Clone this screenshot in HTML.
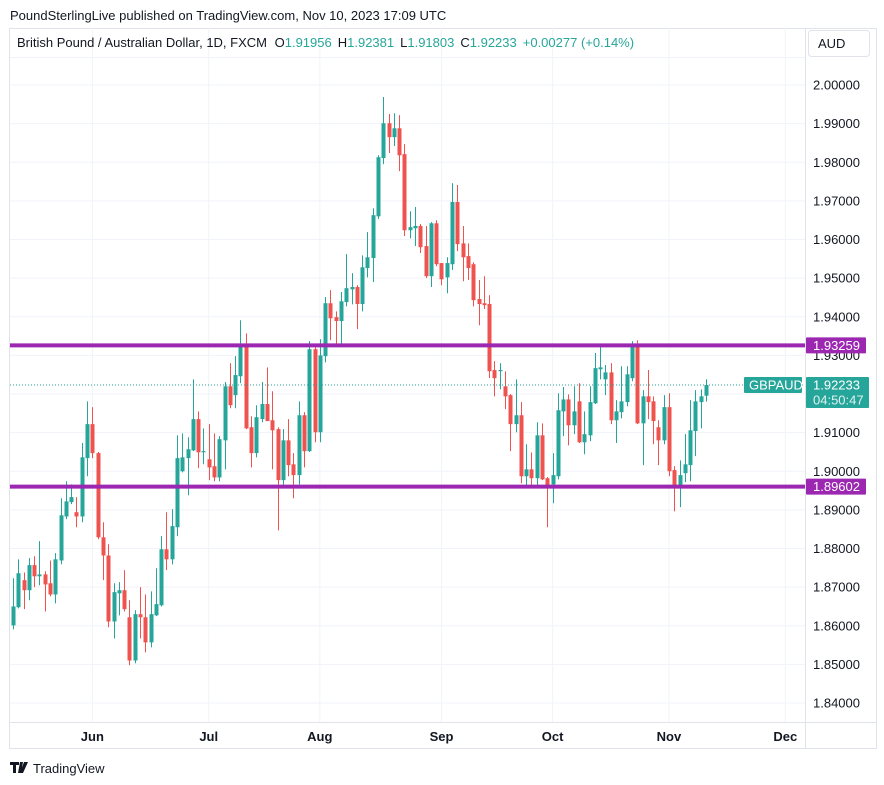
<!DOCTYPE html>
<html><head><meta charset="utf-8"><style>
body{margin:0;background:#fff;font-family:"Liberation Sans",sans-serif;}
#wrap{position:relative;width:884px;height:785px;overflow:hidden;background:#fff}
</style></head><body>
<div id="wrap">
<svg id="svg" width="884" height="785" xmlns="http://www.w3.org/2000/svg"></svg>
</div>
<script>
const opens=[1.8601,1.8648,1.8718,1.8692,1.8757,1.8728,1.8733,1.8710,1.8681,1.8769,1.8883,1.8920,1.8894,1.8883,1.9034,1.9122,1.9047,1.8829,1.8782,1.8611,1.8684,1.8692,1.8622,1.8510,1.8630,1.8622,1.8557,1.8627,1.8653,1.8798,1.8772,1.8855,1.9000,1.9034,1.9054,1.9135,1.9049,1.9031,1.9013,1.8984,1.9080,1.9220,1.9197,1.9246,1.9326,1.9114,1.9047,1.9135,1.9174,1.9132,1.9109,1.8977,1.9080,1.9018,1.8990,1.9145,1.9052,1.9316,1.9101,1.9298,1.9435,1.9399,1.9389,1.9438,1.9471,1.9477,1.9433,1.9526,1.9552,1.9660,1.9811,1.9901,1.9865,1.9888,1.9821,1.9624,1.9629,1.9635,1.9583,1.9505,1.9642,1.9539,1.9502,1.9536,1.9697,1.9590,1.9557,1.9536,1.9446,1.9435,1.9433,1.9262,1.9259,1.9220,1.9197,1.9122,1.9145,1.8987,1.9005,1.8982,1.9093,1.8982,1.8966,1.8987,1.9155,1.9186,1.9119,1.9181,1.9075,1.9093,1.9176,1.9264,1.9238,1.9256,1.9132,1.9153,1.9179,1.9241,1.9326,1.9124,1.9194,1.9181,1.9114,1.9080,1.9166,1.9003,1.8959,1.8995,1.9016,1.9104,1.9179,1.91956];
const highs=[1.8723,1.8772,1.8738,1.8775,1.8780,1.8819,1.8741,1.8769,1.8788,1.8930,1.8974,1.8966,1.8933,1.9073,1.9181,1.9166,1.9050,1.8868,1.8811,1.8710,1.8713,1.8744,1.8666,1.8640,1.8700,1.8681,1.8689,1.8749,1.8832,1.8894,1.8902,1.9093,1.9098,1.9088,1.9238,1.9155,1.9111,1.9122,1.9098,1.9091,1.9231,1.9280,1.9298,1.9391,1.9357,1.9142,1.9171,1.9231,1.9269,1.9207,1.9114,1.9109,1.9135,1.9047,1.9181,1.9153,1.9337,1.9321,1.9342,1.9451,1.9469,1.9414,1.9464,1.9562,1.9513,1.9482,1.9559,1.9619,1.9681,1.9818,1.9969,1.9925,1.9927,1.9922,1.9847,1.9673,1.9684,1.9640,1.9635,1.9645,1.9650,1.9539,1.9554,1.9746,1.9741,1.9635,1.9590,1.9541,1.9495,1.9505,1.9456,1.9285,1.9280,1.9259,1.9200,1.9238,1.9179,1.9070,1.9049,1.9127,1.9124,1.8985,1.9047,1.9202,1.9218,1.9199,1.9220,1.9228,1.9155,1.9220,1.9306,1.9326,1.9275,1.9280,1.9184,1.9272,1.9272,1.9337,1.9339,1.9210,1.9262,1.9194,1.9132,1.9197,1.9202,1.9013,1.9028,1.9096,1.9184,1.9210,1.9212,1.92381];
const lows=[1.8591,1.8645,1.8643,1.8666,1.8700,1.8705,1.8637,1.8676,1.8658,1.8759,1.8876,1.8915,1.8855,1.8868,1.8987,1.9034,1.8824,1.8718,1.8596,1.8567,1.8627,1.8637,1.8498,1.8503,1.8567,1.8531,1.8544,1.8625,1.8650,1.8744,1.8759,1.8832,1.8997,1.8938,1.9052,1.9008,1.9018,1.8977,1.8974,1.8974,1.9005,1.9163,1.9163,1.9228,1.9109,1.9010,1.9036,1.9127,1.9130,1.9005,1.8847,1.8961,1.8987,1.8930,1.8966,1.9010,1.9050,1.9075,1.9075,1.9282,1.9339,1.9329,1.9329,1.9427,1.9432,1.9368,1.9414,1.9502,1.9490,1.9653,1.9795,1.9824,1.9842,1.9777,1.9609,1.9603,1.9583,1.9565,1.9500,1.9477,1.9531,1.9482,1.9461,1.9521,1.9570,1.9492,1.9495,1.9427,1.9378,1.9420,1.9241,1.9194,1.9212,1.9161,1.9052,1.9101,1.8969,1.8961,1.8956,1.8961,1.8977,1.8855,1.8917,1.8979,1.9091,1.9067,1.9096,1.9073,1.9044,1.9078,1.9174,1.9238,1.9197,1.9122,1.9073,1.9137,1.9168,1.9233,1.9122,1.9016,1.9135,1.9070,1.9016,1.9070,1.8987,1.8896,1.8907,1.8972,1.8974,1.9039,1.9111,1.91803];
const closes=[1.8650,1.8736,1.8692,1.8757,1.8728,1.8733,1.8707,1.8681,1.8772,1.8886,1.8922,1.8933,1.8883,1.9036,1.9122,1.9047,1.8829,1.8782,1.8611,1.8687,1.8692,1.8643,1.8510,1.8630,1.8622,1.8557,1.8630,1.8656,1.8798,1.8772,1.8858,1.9034,1.9036,1.9057,1.9135,1.9049,1.9052,1.9010,1.8984,1.9083,1.9220,1.9171,1.9249,1.9326,1.9111,1.9047,1.9140,1.9174,1.9130,1.9106,1.8977,1.9080,1.9016,1.8990,1.9145,1.9052,1.9316,1.9101,1.9300,1.9435,1.9396,1.9389,1.9440,1.9474,1.9477,1.9433,1.9528,1.9554,1.9663,1.9813,1.9901,1.9865,1.9888,1.9818,1.9624,1.9632,1.9635,1.9580,1.9505,1.9642,1.9536,1.9497,1.9539,1.9697,1.9588,1.9554,1.9526,1.9443,1.9433,1.9430,1.9259,1.9241,1.9262,1.9194,1.9122,1.9145,1.8987,1.9005,1.8982,1.9093,1.8979,1.8956,1.8990,1.9158,1.9186,1.9119,1.9155,1.9075,1.9096,1.9179,1.9267,1.9269,1.9256,1.9132,1.9155,1.9181,1.9251,1.9326,1.9124,1.9194,1.9179,1.9130,1.9080,1.9166,1.9000,1.8959,1.8990,1.9018,1.9106,1.9181,1.9194,1.92233];
const priceTicks=[2.00,1.99,1.98,1.97,1.96,1.95,1.94,1.93,1.91,1.90,1.89,1.88,1.87,1.86,1.85,1.84];
const monthLabels=["Jun","Jul","Aug","Sep","Oct","Nov","Dec"];
const monthBarIndex=[15,37,58,81,102,124,146];
const levels=[1.93259,1.89602];
const lastPrice=1.92233;

const NS="http://www.w3.org/2000/svg";
const svg=document.getElementById('svg');
const X0=10,X1=805,Y0=28,Y1=722;
function y(p){return 85+(2.0-p)*3862.5;}
function x(i){return 13+i*5.29;}
function el(tag,attrs,parent){const e=document.createElementNS(NS,tag);for(const k in attrs)e.setAttribute(k,attrs[k]);(parent||svg).appendChild(e);return e;}
function txt(s,attrs,parent){const e=el('text',attrs,parent);e.textContent=s;return e;}

// frame
const frame=el('rect',{x:9.5,y:28.5,width:867,height:720,fill:'none',stroke:'#e0e3eb'});


// grid
const grid=el('g',{});


for(let i=0;i<priceTicks.length;i++){el('line',{x1:X0,x2:X1,y1:y(priceTicks[i]),y2:y(priceTicks[i]),stroke:'#f0f3fa'},grid);}
el('line',{x1:X0,x2:X1,y1:y(1.92),y2:y(1.92),stroke:'#f0f3fa'},grid);
for(let i=0;i<monthBarIndex.length;i++){el('line',{x1:x(monthBarIndex[i]),x2:x(monthBarIndex[i]),y1:Y0,y2:Y1,stroke:'#f0f3fa'},grid);}
// axes borders
el('line',{x1:X1+0.5,x2:X1+0.5,y1:Y0,y2:748,stroke:'#e0e3eb'});
el('line',{x1:X0,x2:877,y1:Y1+0.5,y2:Y1+0.5,stroke:'#e0e3eb'});
el('line',{x1:X0,x2:X1,y1:57.5,y2:57.5,stroke:'#f0f3fa'});

// candles
const cg=el('g',{});


for(let i=0;i<opens.length;i++){
  const up=closes[i]>=opens[i];const col=up?'#26a69a':'#ef5350';
  const g=el('g',{},cg);
  
  
  const cx=Math.round(x(i))+0.5;
  el('line',{x1:cx,x2:cx,y1:y(highs[i]),y2:y(lows[i]),stroke:col,'stroke-width':1},g);
  const t=y(Math.max(opens[i],closes[i])),b=y(Math.min(opens[i],closes[i]));
  el('rect',{x:cx-2,y:t,width:4,height:Math.max(1,b-t),fill:col},g);
}
// levels
for(let i=0;i<levels.length;i++){
  const l=el('line',{x1:X0,x2:X1,y1:y(levels[i]),y2:y(levels[i]),stroke:'#9c27b0','stroke-width':4});
  
  
}
const pl=el('line',{x1:X0,x2:X1,y1:y(lastPrice),y2:y(lastPrice),stroke:'#26a69a','stroke-width':1,'stroke-dasharray':'1 2'});



// price axis labels
const pa=el('g',{});


for(let i=0;i<priceTicks.length;i++){
  txt(priceTicks[i].toFixed(5),{x:813,y:y(priceTicks[i])+4.5,'font-size':13,fill:'#131722','font-family':'Liberation Sans, sans-serif'},pa);
}
for(let i=0;i<levels.length;i++){
  const g=el('g',{});
  
  
  el('rect',{x:806,y:y(levels[i])-8,width:60,height:16,fill:'#9c27b0',rx:1},g);
  txt(levels[i].toFixed(5),{x:813,y:y(levels[i])+4.5,'font-size':13,fill:'#fff'},g);
}
const lp=el('g',{});


el('rect',{x:806,y:y(lastPrice)-8,width:63,height:31,fill:'#26a69a',rx:1},lp);
txt(lastPrice.toFixed(5),{x:813,y:y(lastPrice)+4.5,'font-size':13,fill:'#fff'},lp);
txt('04:50:47',{x:813,y:y(lastPrice)+19.5,'font-size':13,fill:'#e0f2f1'},lp);
const sym=el('g',{});


el('rect',{x:744,y:y(lastPrice)-8,width:58,height:16,fill:'#26a69a',rx:1},sym);
txt('GBPAUD',{x:749,y:y(lastPrice)+4.5,'font-size':13,fill:'#fff'},sym);

// time axis
const ta=el('g',{});


for(let i=0;i<monthLabels.length;i++){
  txt(monthLabels[i],{x:x(monthBarIndex[i]),y:741,'font-size':13,'font-weight':'bold',fill:'#131722','text-anchor':'middle'},ta);
}

// header
txt('PoundSterlingLive published on TradingView.com, Nov 10, 2023 17:09 UTC',{x:10,y:20,'font-size':13,fill:'#131722'});
const lg=el('text',{x:17,y:47,'font-size':13,fill:'#131722'});


lg.innerHTML='British Pound / Australian Dollar, 1D, FXCM  <tspan dx="4">O</tspan><tspan fill="#26a69a">1.91956</tspan><tspan dx="6">H</tspan><tspan fill="#26a69a">1.92381</tspan><tspan dx="6">L</tspan><tspan fill="#26a69a">1.91803</tspan><tspan dx="6">C</tspan><tspan fill="#26a69a">1.92233</tspan><tspan dx="6" fill="#26a69a">+0.00277 (+0.14%)</tspan>';
const cur=el('g',{});


el('rect',{x:808.5,y:30.5,width:61,height:26,fill:'#fff',stroke:'#e0e3eb',rx:3},cur);
txt('AUD',{x:818,y:48,'font-size':13,fill:'#131722'},cur);

// footer logo
const lo=el('g',{});


el('path',{d:'M10 762h9v3h-3v8h-3v-8h-3z M20 762h3l-2 11h-3z M24 762h4l-5 11h-3z',fill:'#131722'},lo);
txt('TradingView',{x:33,y:773,'font-size':13,fill:'#131722'},lo);
</script>
</body></html>
